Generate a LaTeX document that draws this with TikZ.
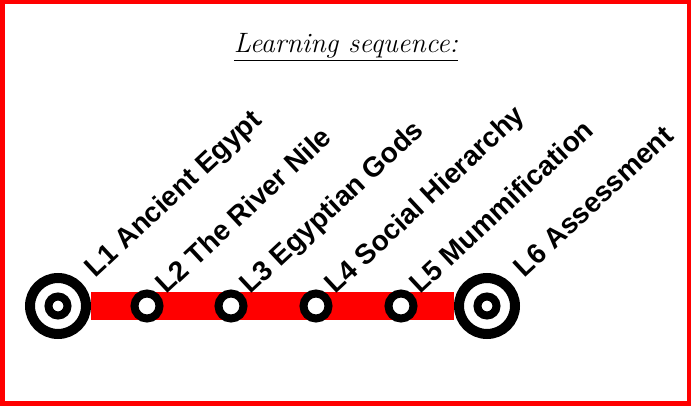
\documentclass[tikz,border=0pt]{standalone}
\usepackage{fontspec}
\newfontfamily\labelfont{Liberation Sans}
\usetikzlibrary{backgrounds,calc}
\tikzstyle{bigstop}=[circle,draw=black,fill=white,line width=10pt,minimum size=56pt,inner sep=0pt]
\tikzstyle{bigcore}=[circle,draw=black,fill=white,line width=8pt,minimum size=19pt,inner sep=0pt]
\tikzstyle{smallstop}=[circle,draw=black,fill=white,line width=8pt,minimum size=25pt,inner sep=0pt]
\tikzstyle{lesson}=[anchor=base west,rotate=43,inner sep=0pt,font=\labelfont\bfseries\fontsize{28}{30}\selectfont]
\tikzstyle{track}=[red,line width=28pt]
\tikzstyle{heading}=[font=\itshape\fontsize{28}{30}\selectfont]
\def\lesson#1#2#3{\node[lesson] (#1l) at ($(#1.43)+(43:#2)+(-47:5.5)$) {#3}}

\begin{document}
\begin{tikzpicture}[x=1pt,y=1pt]
    \useasboundingbox (0,0) rectangle (691,406);
    \draw[red,line width=4.5pt] (2.25,2.25) rectangle (688.75,403.75);
    \node[heading] (title) at (346,359) {\underline{Learning sequence:}};
    % stations along the line
    \node[bigstop] (s1) at (58,100) {};
    \node[bigcore] (s1c) at (s1) {};
    \node[smallstop] (s2) at (147,100) {};
    \node[smallstop] (s3) at (231,100) {};
    \node[smallstop] (s4) at (316,100) {};
    \node[smallstop] (s5) at (401,100) {};
    \node[bigstop] (s6) at (487,100) {};
    \node[bigcore] (s6c) at (s6) {};
    \begin{pgfonlayer}{background}
      \draw[track] (s1) -- (s6);
    \end{pgfonlayer}
    \lesson{s1}{13.5}{L1 Ancient Egypt};
    \lesson{s2}{5.5}{L2 The River Nile};
    \lesson{s3}{5.5}{L3 Egyptian Gods};
    \lesson{s4}{5.5}{L4 Social Hierarchy};
    \lesson{s5}{5.5}{L5 Mummification};
    \lesson{s6}{13.5}{L6 Assessment};
  \end{tikzpicture}
\end{document}
